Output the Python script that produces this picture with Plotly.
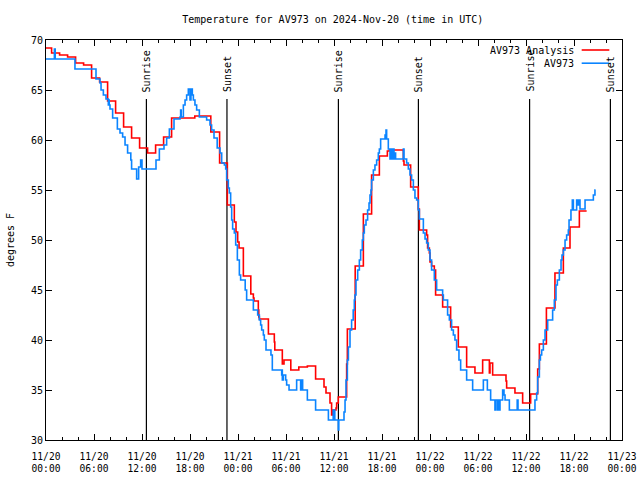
import pandas as pd
import plotly.graph_objects as go

BASE = pd.Timestamp("2024-11-20 00:00")

# Analysis series (hours after 11/20 00:00 UTC, degrees F), drawn as steps
analysis_hours = [0, 0.7, 1.7, 2.7, 3.7, 4.7, 5.7, 6.7, 7.7, 8.7, 9.7, 10.7, 11.7, 12.7,
                  13.7, 14.7, 15.7, 18.6, 20.6, 21.7, 22.67, 23.54, 23.75, 23.96, 24.13,
                  24.67, 25.6, 25.92, 26.0, 26.54, 26.6, 26.67, 27.8, 28.54, 28.6, 29.54,
                  29.75, 30.6, 31.6, 32.67, 33.7, 34.75, 35.0, 35.5, 35.7, 35.9, 36.25,
                  36.33, 36.54, 37.58, 37.67, 38.65, 39.67, 40.7, 41.67, 42.67, 42.92,
                  44.67, 44.75, 45.58, 46.54, 46.67, 47.58, 47.7, 47.92, 48.0, 48.2, 48.54,
                  48.7, 49.58, 50.58, 51.54, 52.58, 53.62, 54.58, 55.42, 55.5, 55.83, 57.5,
                  57.58, 58.62, 59.58, 60.58, 61.46, 61.67, 62.55, 63.62, 64.67, 65.5,
                  66.67, 67.58]
analysis_temp = [69.2, 68.7, 68.5, 68.3, 67.7, 67.5, 66.2, 65.8, 63.9, 62.7, 61.3, 60.2, 59.2, 58.7,
                 59.5, 60.3, 62.2, 62.4, 60.8, 57.7, 53.5, 51.8, 50.8, 49.8, 49.2,
                 46.4, 44.6, 44.2, 43.9, 43.0, 42.3, 42.1, 40.6, 39.8, 39.0, 37.6,
                 38.0, 37.0, 37.3, 37.4, 36.1, 35.3, 34.7, 33.7, 32.5, 33.0, 33.2,
                 33.7, 34.3, 37.6, 41.1, 47.4, 52.6, 56.5, 58.4, 58.9, 59.0,
                 57.9, 57.5, 55.3, 53.1, 51.0, 50.5, 49.2, 48.7, 47.8, 47.4, 47.0,
                 44.5, 43.3, 41.3, 39.3, 37.3, 36.7, 38.0, 36.7, 37.7, 36.5, 35.9,
                 35.2, 34.7, 33.7, 34.6, 37.1, 39.6, 43.2, 46.7, 49.2, 51.3,
                 52.9, 52.9]

# Observed series
obs_hours = [0, 1.05, 1.15, 3.62, 6.25, 6.75, 6.88, 7.17, 7.5, 7.79, 7.85, 7.9, 8.0, 8.33,
             8.92, 9.25, 9.58, 9.88, 10.2, 10.6, 10.7, 11.33, 11.58, 11.83, 12.0, 13.75,
             14.17, 14.75, 15.08, 15.42, 16.0, 16.75, 16.83, 16.9, 17.17, 17.38, 17.58,
             17.79, 18.0, 18.12, 18.29, 18.42, 18.62, 18.83, 19.17, 20.08, 20.5, 20.7,
             21.0, 21.4, 21.75, 21.96, 22.3, 22.46, 22.58, 22.79, 22.92, 23.08, 23.21,
             23.33, 23.54, 23.71, 23.92, 24.17, 24.33, 24.9, 25.08, 25.92, 26.46, 26.67,
             26.83, 26.96, 27.17, 27.29, 27.5, 28.12, 28.29, 29.46, 29.5, 29.54, 29.67,
             29.96, 30.08, 30.38, 31.33, 31.75, 31.83, 31.96, 32.08, 32.67, 33.7, 35.3,
             35.9, 36.1, 36.54, 36.6, 37.25, 37.38, 37.5, 37.67, 37.8, 38.0, 38.2, 38.4,
             38.54, 38.62, 38.75, 38.96, 39.17, 39.33, 39.54, 39.67, 39.79, 40.0, 40.2,
             40.38, 40.5, 40.62, 40.7, 40.92, 41.12, 41.33, 41.54, 41.67, 41.83, 42.38,
             42.5, 42.58, 42.79, 43.0, 43.08, 43.2, 43.3, 43.5, 43.6, 43.7, 44.67, 44.75,
             45.08, 45.29, 45.5, 45.7, 45.92, 46.12, 46.33, 46.54, 46.67, 47.17, 47.38,
             47.58, 47.79, 48.0, 48.2, 48.54, 48.83, 49.58, 49.67, 50.2, 50.42, 50.7,
             50.92, 51.12, 51.33, 51.62, 51.83, 52.58, 53.33, 54.67, 55.17, 55.58, 56.12,
             56.2, 56.42, 56.5, 56.67, 56.75, 57.08, 57.25, 57.38, 57.92, 58.9, 59.0,
             61.12, 61.33, 61.46, 61.67, 61.8, 61.96, 62.17, 62.38, 62.71, 63.33, 63.54,
             63.75, 63.92, 64.17, 64.38, 64.5, 64.67, 64.88, 65.08, 65.29, 65.38, 65.62,
             65.79, 65.92, 66.33, 66.42, 66.62, 66.75, 67.38, 68.42, 68.62, 68.7]
obs_temp = [68.1, 69.1, 68.1, 67.1, 66.1, 65.7, 65.0, 64.5, 64.1, 63.5, 64.0, 63.5, 63.1, 62.2,
            61.1, 60.7, 60.3, 59.5, 58.7, 58.0, 57.1, 56.1, 57.3, 58.0, 57.1, 58.0,
            59.1, 59.5, 60.2, 61.1, 62.1, 62.3, 63.0, 62.3, 63.5, 64.0, 64.5,
            65.1, 64.0, 65.1, 64.5, 64.0, 63.5, 63.0, 62.3, 62.0, 61.5, 61.0,
            60.2, 59.2, 58.7, 57.7, 57.5, 57.1, 56.0, 55.2, 54.7, 53.3, 52.0,
            51.1, 50.7, 49.5, 48.0, 46.5, 46.0, 45.0, 44.0, 43.0, 42.5, 42.0,
            41.5, 41.0, 40.5, 40.0, 39.0, 38.5, 37.0, 36.5, 37.0, 36.0, 36.5,
            36.0, 35.5, 35.0, 36.0, 36.0, 35.0, 36.0, 35.0, 34.0, 33.0, 32.0,
            33.0, 32.0, 31.0, 32.0, 32.8, 34.0, 36.0, 38.0, 39.3, 41.0, 42.0, 43.0,
            44.0, 44.5, 46.0, 47.0, 48.0, 49.0, 50.0, 50.7, 51.5, 52.0, 53.0,
            53.7, 54.5, 55.0, 56.0, 57.0, 57.5, 58.0, 58.7, 59.1, 60.1, 60.5,
            61.0, 60.1, 59.1, 58.1, 59.1, 58.1, 59.1, 58.1, 58.7, 58.1, 59.1, 58.1,
            57.7, 57.1, 56.5, 56.0, 55.0, 54.2, 54.0, 53.0, 52.1, 50.7, 50.1,
            49.7, 49.0, 48.0, 47.0, 46.0, 45.0, 44.5, 44.0, 42.5, 42.0, 41.0,
            40.5, 40.0, 39.0, 38.0, 37.0, 36.0, 35.0, 36.0, 35.0, 34.0, 33.0,
            34.0, 33.0, 34.0, 33.0, 34.0, 35.0, 34.5, 34.0, 33.0, 34.0, 33.0,
            34.0, 34.7, 36.3, 38.0, 38.5, 39.0, 40.0, 41.0, 42.0, 43.0, 44.0,
            45.5, 46.0, 47.0, 48.0, 48.5, 49.0, 50.0, 50.5, 51.0, 52.0, 53.0,
            54.0, 53.0, 54.0, 53.5, 54.0, 53.1, 54.0, 54.5, 55.0, 55.0]

sunrise_hours = [12.55, 36.55, 60.45]
sunset_hours = [22.62, 46.55, 70.55]
marker_top = 64.1

title_text = "Temperature for AV973 on 2024-Nov-20 (time in UTC)"
series_names = ["AV973 Analysis", "AV973"]
series_colors = ["#ff0000", "#0a84ff"]


def to_time(hours):
    return BASE + pd.to_timedelta(pd.Series(hours), unit="h")


FONT = "DejaVu Sans Mono"
fig = go.Figure()
fig.add_trace(go.Scatter(x=to_time(analysis_hours), y=analysis_temp, mode="lines",
                         line=dict(color=series_colors[0], width=1.6, shape="hv"),
                         name=series_names[0], showlegend=False))
fig.add_trace(go.Scatter(x=to_time(obs_hours), y=obs_temp, mode="lines",
                         line=dict(color=series_colors[1], width=1.6, shape="hv"),
                         name=series_names[1], showlegend=False))

for hrs, label in [(sunrise_hours, "Sunrise"), (sunset_hours, "Sunset")]:
    for t in to_time(hrs):
        fig.add_shape(type="line", xref="x", yref="y", x0=t, x1=t, y0=30, y1=marker_top,
                      line=dict(color="black", width=1.2), layer="below")
        fig.add_annotation(x=t, y=marker_top, xref="x", yref="y", text=label,
                           textangle=-90, showarrow=False, xanchor="center",
                           yanchor="bottom", yshift=5,
                           font=dict(family=FONT, size=10, color="black"))

# legend drawn gnuplot style (text then line sample)
for i, (name, col) in enumerate(zip(series_names, series_colors)):
    yp = 0.975 - i * 0.033
    fig.add_annotation(x=0.92, y=yp, xref="paper", yref="paper", text=name,
                       showarrow=False, xanchor="right", yanchor="middle",
                       font=dict(family=FONT, size=10, color="black"))
    fig.add_shape(type="line", xref="paper", yref="paper", x0=0.93, x1=0.978,
                  y0=yp, y1=yp, line=dict(color=col, width=1.6))

fig.update_layout(
    width=640, height=480,
    margin=dict(l=46, r=18, t=40, b=40),
    paper_bgcolor="white", plot_bgcolor="white",
    font=dict(family=FONT, size=10, color="black"),
    title=dict(text=title_text, x=0.52, xanchor="center", y=0.96, yanchor="middle",
               font=dict(family=FONT, size=10, color="black")),
    showlegend=False,
)
fig.update_xaxes(
    type="date", automargin=False,
    range=[BASE, BASE + pd.Timedelta(hours=72)],
    tick0=BASE, dtick=6 * 3600 * 1000,
    tickformat="%m/%d<br>%H:%M",
    ticks="inside", ticklen=6, tickcolor="black",
    ticklabelstandoff=7, ticklabeloverflow="allow",
    minor=dict(dtick=2 * 3600 * 1000, ticks="inside", ticklen=3, tickcolor="black"),
    showline=True, linecolor="black", linewidth=1, mirror="allticks",
    showgrid=False, zeroline=False,
    tickfont=dict(family=FONT, size=9.6, color="black"),
)
fig.update_yaxes(
    automargin=False,
    range=[30, 70], dtick=5, tick0=30,
    ticks="inside", ticklen=6, tickcolor="black",
    showline=True, linecolor="black", linewidth=1, mirror="allticks",
    showgrid=False, zeroline=False,
    title=dict(text="degrees F", font=dict(family=FONT, size=10, color="black"), standoff=14),
    tickfont=dict(family=FONT, size=10, color="black"),
)

fig.write_html("out.html", config={"responsive": False, "displayModeBar": False},
               post_script="document.body.style.margin='0px';document.body.style.overflow='hidden';")
